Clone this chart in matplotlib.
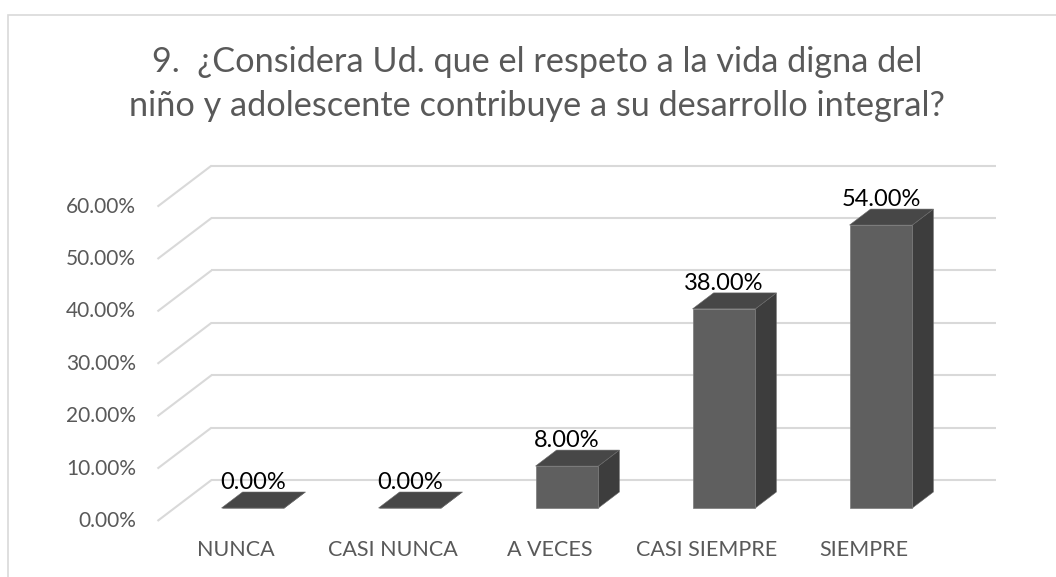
import matplotlib
matplotlib.use("Agg")
import matplotlib.pyplot as plt
from matplotlib.patches import Polygon, Rectangle

# data
categories = ["NUNCA", "CASI NUNCA", "A VECES", "CASI SIEMPRE", "SIEMPRE"]
values = [0.0, 0.0, 8.0, 38.0, 54.0]
ticks = [0, 10, 20, 30, 40, 50, 60]
title_lines = ["9.  ¿Considera Ud. que el respeto a la vida digna del",
               "niño y adolescente contribuye a su desarrollo integral?"]

# fake-3d geometry, in data units (category index / percent)
BAR_W = 0.40
DDX, DDY = 0.134, 3.05          # bar depth
BACK_DX, BACK_DY = 0.236, 5.34  # back wall relative to bar front
FRONT_DX, FRONT_DY = -0.108, -2.48  # front floor edge relative to bar front
WALL_L, WALL_R = -0.5, 4.5

FRONT_C, TOP_C, SIDE_C = "#5f5f5f", "#474747", "#3d3d3d"
GRID_C = "#d9d9d9"
TEXT_C = "#595959"

plt.rcParams["font.family"] = ["Lato", "DejaVu Sans"]

fig = plt.figure(figsize=(10.56, 5.77), dpi=100)
ax = fig.add_axes([0, 0, 1, 1])
ax.set_xlim(-1.611, 5.115)
ax.set_ylim(-13.17, 96.95)
ax.axis("off")

# chart border (cropped chart area)
fig.patches.append(Rectangle((8 / 1056, -0.1), 1.2, 1.1 - 15 / 577,
                             transform=fig.transFigure, fill=False,
                             edgecolor=GRID_C, lw=1.2))

# back wall gridlines + left wall diagonals
for t in ticks:
    xb0, xb1 = WALL_L + BACK_DX, WALL_R + BACK_DX
    yb = t + BACK_DY
    ax.plot([xb0, xb1], [yb, yb], color=GRID_C, lw=1.5, zorder=1,
            solid_capstyle="butt")
    ax.plot([WALL_L + FRONT_DX, xb0], [t + FRONT_DY, yb], color=GRID_C,
            lw=1.5, zorder=1, solid_capstyle="butt")
    ax.text(-0.745, t + FRONT_DY, f"{t:.2f}%", ha="right", va="center",
            fontsize=15, color=TEXT_C)

# bars
xs = list(range(len(categories)))
ax.bar(xs, values, width=BAR_W, color=FRONT_C, edgecolor="#7a7a7a",
       linewidth=0.5, zorder=3)
for x, v in zip(xs, values):
    l, r = x - BAR_W / 2, x + BAR_W / 2
    top = [(l, v), (r, v), (r + DDX, v + DDY), (l + DDX, v + DDY)]
    side = [(r, 0), (r + DDX, DDY), (r + DDX, v + DDY), (r, v)]
    ax.add_patch(Polygon(side, closed=True, facecolor=SIDE_C,
                         edgecolor="#6a6a6a", lw=0.4, zorder=2))
    ax.add_patch(Polygon(top, closed=True, facecolor=TOP_C,
                         edgecolor="#6a6a6a", lw=0.4, zorder=4))
    ax.text(x, v + DDY + 1.8, f"{v:.2f}%", ha="center", va="center",
            fontsize=17, color="#000000", zorder=5)

for x, c in zip(xs, categories):
    ax.text(x + FRONT_DX, -8.0, c, ha="center", va="center",
            fontsize=15.5, color=TEXT_C)

for line, base_px in zip(title_lines, [72, 116]):
    fig.text(537 / 1056, 1 - base_px / 577, line, ha="center",
             va="baseline", fontsize=24.7, color=TEXT_C)

fig.savefig("out.png", dpi=100)
